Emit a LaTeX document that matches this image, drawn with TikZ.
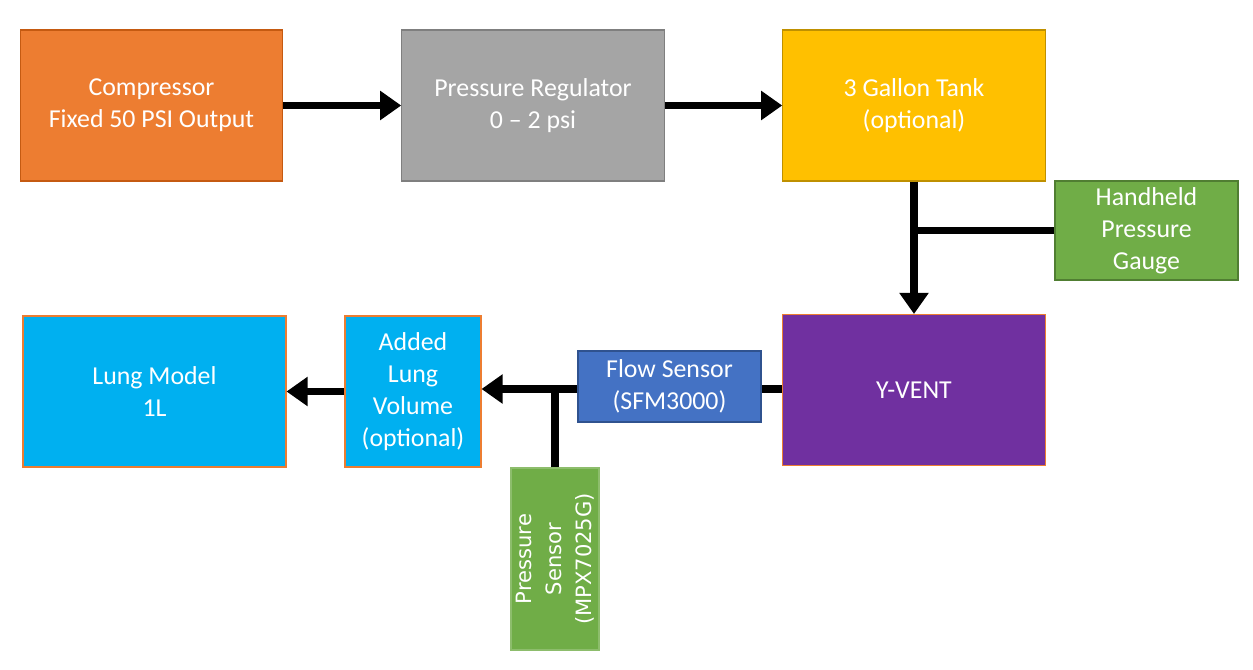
\documentclass[tikz,border=0pt]{standalone}
\usepackage{fontspec}
\setmainfont{Carlito}
\newfontfamily\sensorfont{DejaVu Sans}
\usetikzlibrary{arrows.meta,positioning,calc}
\definecolor{VentOrange}{HTML}{ED7D31}
\definecolor{VentOrangeDark}{HTML}{C55A11}
\definecolor{VentGray}{HTML}{A5A5A5}
\definecolor{VentGrayDark}{HTML}{7F7F7F}
\definecolor{VentYellow}{HTML}{FFC000}
\definecolor{VentYellowDark}{HTML}{BF9000}
\definecolor{VentGreen}{HTML}{70AD47}
\definecolor{VentGreenDark}{HTML}{507E32}
\definecolor{VentPurple}{HTML}{7030A0}
\definecolor{VentBlue}{HTML}{4472C4}
\definecolor{VentBlueDark}{HTML}{2F528F}
\definecolor{VentCyan}{HTML}{00B0F0}
\tikzset{
  box/.style={draw, line width=0.6pt, align=center, text=white, inner sep=2pt, font=\fontsize{14.7}{18.3}\selectfont},
  bigbox/.style={box, minimum width=5.25cm, minimum height=3.02cm},
  orangebox/.style={bigbox, fill=VentOrange, draw=VentOrangeDark},
  graybox/.style={bigbox, fill=VentGray, draw=VentGrayDark},
  yellowbox/.style={bigbox, fill=VentYellow, draw=VentYellowDark},
  purplebox/.style={bigbox, fill=VentPurple, draw=VentOrange},
  cyanbox/.style={box, fill=VentCyan, draw=VentOrange, minimum height=3.02cm},
  greenbox/.style={box, fill=VentGreen, draw=VentGreenDark},
  bluebox/.style={box, fill=VentBlue, draw=VentBlueDark, minimum width=3.66cm, minimum height=1.42cm},
  arr/.style={-{Triangle[length=12pt, width=16pt]}, line width=4pt},
  pipe/.style={line width=4pt}
}
\begin{document}
\begin{tikzpicture}
\useasboundingbox (0,0) rectangle (25.06,-13.4);
% top row
\node[orangebox] (comp) at (3.03,-2.11) {Compressor\\Fixed 50 PSI Output};
\node[graybox] (reg) at (10.66,-2.11) {Pressure Regulator\\0 -- 2 psi};
\node[yellowbox] (tank) at (18.28,-2.11) {3 Gallon Tank\\(optional)};
\node[greenbox, minimum width=3.66cm, minimum height=1.98cm] (gauge) at (22.93,-4.61) {Handheld\\Pressure\\Gauge};
% bottom row
\node[purplebox] (yvent) at (18.28,-7.8) {Y-VENT};
\node[bluebox] (flow) at (13.39,-7.73) {Flow Sensor\\(SFM3000)};
\node[cyanbox, minimum width=2.72cm] (added) at (8.26,-7.83) {Added\\Lung\\Volume\\(optional)};
\node[cyanbox, minimum width=5.26cm] (lung) at (3.09,-7.83) {Lung Model\\1L};
\node[greenbox, fill=VentGreen, draw=VentGreen!80!white, minimum width=3.64cm, minimum height=1.76cm, rotate=90,
  inner sep=0pt, font=\sensorfont\fontsize{12}{17.2}\selectfont] (psens) at (11.1,-11.18) {Pressure\\Sensor\\(MPX7025G)};
% connectors
\draw[arr] (comp) -- (reg);
\draw[arr] (reg) -- (tank);
\draw[arr] (tank) -- (yvent);
\draw[pipe] (gauge.west) -- (gauge.west -| tank.south);
\draw[pipe] (yvent.west |- 0,-7.78) -- (flow.east |- 0,-7.78);
\draw[arr] (flow.west |- 0,-7.78) -- (added.east |- 0,-7.78);
\draw[pipe] (psens.east) -- ($(psens.east |- 0,-7.78)+(0,-0.05)$);
\draw[arr] (added) -- (lung);
\end{tikzpicture}
\end{document}
